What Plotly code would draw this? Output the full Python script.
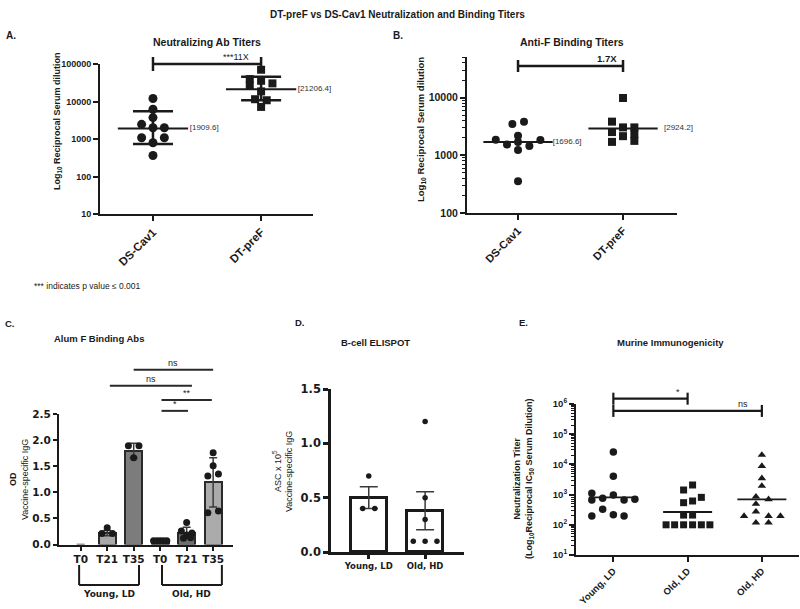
import math
import plotly.graph_objects as go

W, H = 800, 609

# ---------------- Panel A: Neutralizing Ab titers ----------------
A_CATS = ["DS-Cav1", "DT-preF"]
A_DSCAV1 = [12000, 6220, 3720, 2460, 2000, 2000, 1080, 1080, 795, 363]
A_DSCAV1_JIT = [0, 0, 0, -0.105, 0, 0.105, -0.105, 0.105, 0, 0]
A_DTPREF = [70300, 39600, 35700, 30400, 26300, 18600, 11500, 10800, 7170]
A_DTPREF_JIT = [0, -0.105, 0, 0.105, -0.105, 0, -0.056, 0.052, 0]
A_MEAN = [1909.6, 21206.4]
A_UPPER = [5500, 45600]
A_LOWER = [740, 10800]
A_YTICKS = [10, 100, 1000, 10000, 100000]
A_BRACKET = 100000
A_FOLD = "***11X"

# ---------------- Panel B: Anti-F binding titers ----------------
B_CATS = ["DS-Cav1", "DT-preF"]
B_DSCAV1 = [3840, 3500, 2180, 1860, 1850, 1710, 1535, 1455, 1240, 354]
B_DSCAV1_JIT = [0.057, -0.054, 0, -0.212, 0.213, 0, -0.105, 0.108, 0, 0]
B_DTPREF = [9860, 3840, 3050, 3050, 2530, 2330, 2150, 1780, 1710]
B_DTPREF_JIT = [0, -0.105, 0, 0.108, -0.105, 0.108, 0, 0.108, -0.105]
B_MEAN = [1696.6, 2924.2]
B_YTICKS = [100, 1000, 10000]
B_BRACKET = 35400
B_FOLD = "1.7X"

# ---------------- Panel C: Alum F binding Abs ----------------
C_TICKS = ["T0", "T21", "T35", "T0", "T21", "T35"]
C_MEAN = [0, 0.22, 1.80, 0.07, 0.22, 1.19]
C_SD = [0, 0.05, 0.14, 0.01, 0.11, 0.47]
C_COLORS = ["#ffffff", "#a9a9a9", "#7c7c7c", "#3a3a3a", "#6e6e6e", "#ababab"]
C_POINTS = [[], [0.32, 0.21, 0.21], [1.89, 1.89, 1.66], [0.07, 0.07, 0.07, 0.07, 0.07],
            [0.42, 0.26, 0.22, 0.18, 0.12, 0.13], [1.76, 1.51, 1.31, 1.35, 0.61, 0.64]]
C_JIT = [[], [0, -0.2, 0.2], [-0.2, 0.2, 0], [-0.25, -0.12, 0, 0.12, 0.25],
         [0, -0.2, 0.2, 0, -0.12, 0.15], [0, 0, -0.2, 0.2, -0.2, 0.2]]
C_YTICKS = [0.0, 0.5, 1.0, 1.5, 2.0, 2.5]
C_GROUPS = [("Young, LD", -0.06, 2.2), ("Old, HD", 3.07, 5.33)]
C_SIG = [("ns", 2.0, 5.0, 3.35), ("ns", 1.1, 4.2, 3.04), ("**", 3.05, 4.95, 2.77), ("*", 3.05, 4.05, 2.56)]

# ---------------- Panel D: B-cell ELISPOT ----------------
D_CATS = ["Young, LD", "Old, HD"]
D_MEAN = [0.50, 0.38]
D_SEM = [0.10, 0.175]
D_POINTS = [[0.7, 0.4, 0.4], [1.2, 0.5, 0.3, 0.1, 0.1, 0.1]]
D_JIT = [[0, -0.107, 0.107], [0, 0, 0, -0.21, 0, 0.21]]
D_YTICKS = [0.0, 0.5, 1.0, 1.5]

# ---------------- Panel E: Murine immunogenicity ----------------
E_CATS = ["Young, LD", "Old, LD", "Old, HD"]
E_YOUNG_LD = [25700, 4040, 1100, 970, 754, 660, 660, 697, 325, 195, 216, 195]
E_YOUNG_LD_JIT = [0, 0, -0.29, 0, -0.144, -0.29, 0.144, 0.29, -0.144, -0.29, 0, 0.144]
E_OLD_LD = [2080, 1420, 810, 540, 614, 210, 210, 100, 100, 100, 100, 100, 100]
E_OLD_LD_JIT = [0.067, -0.054, 0.185, -0.054, 0.067, -0.054, 0.067, -0.29, -0.175, -0.054, 0.067, 0.185, 0.30]
E_OLD_HD = [20500, 8850, 3460, 1930, 850, 697, 489, 272, 195, 195, 195, 117, 117]
E_OLD_HD_JIT = [0, 0, 0, 0, -0.08, 0.09, -0.08, -0.08, -0.24, 0.09, 0.25, -0.08, 0.09]
E_MEDIAN = [813, 265, 697]
E_YTICKS = [10, 100, 1000, 10000, 100000, 1000000]
E_SIG = [("*", 0, 1.0, 1.5e6), ("ns", 0, 2.0, 5.9e5)]

# ---------------- helpers ----------------
ARIAL = "Liberation Sans, Arial, sans-serif"
WIDE = "DejaVu Sans, sans-serif"
INK = "#1a1a1a"


def dom_x(p0, p1):
    return [p0 / W, p1 / W]


def dom_y(top, bottom):
    return [1 - bottom / H, 1 - top / H]


def px(x):
    return x / W


def py(y):
    return 1 - y / H


def log_frac(v, r):
    return (math.log10(v) - r[0]) / (r[1] - r[0])


fig = go.Figure()
shapes = []
annotations = []


def scatter_pts(xc, vals, jit, xa, ya, symbol, size, color=INK):
    fig.add_trace(go.Scatter(
        x=[xc + j for j in jit], y=vals, mode="markers", xaxis=xa, yaxis=ya,
        marker=dict(symbol=symbol, size=size, color=color, line=dict(width=0)),
        showlegend=False, hoverinfo="skip", cliponaxis=False))


def hline(xc, val, half, xa, ya, width=2):
    fig.add_trace(go.Scatter(
        x=[xc - half, xc + half], y=[val, val], mode="lines", xaxis=xa, yaxis=ya,
        line=dict(color=INK, width=width), showlegend=False, hoverinfo="skip"))


def bracket(xa, ya_dom, x0, x1, frac, tick_frac, width=2.5, left=True, right=True):
    shapes.append(dict(type="line", xref=xa, yref=ya_dom, x0=x0, x1=x1, y0=frac, y1=frac,
                       line=dict(color=INK, width=width)))
    if left:
        shapes.append(dict(type="line", xref=xa, yref=ya_dom, x0=x0, x1=x0,
                           y0=frac - tick_frac, y1=frac + tick_frac, line=dict(color=INK, width=width)))
    if right:
        shapes.append(dict(type="line", xref=xa, yref=ya_dom, x0=x1, x1=x1,
                           y0=frac - tick_frac, y1=frac + tick_frac, line=dict(color=INK, width=width)))


def text(x, y, s, size, bold=False, family=ARIAL, xanchor="center", yanchor="middle",
         angle=0, xref="paper", yref="paper", color=INK):
    annotations.append(dict(x=x, y=y, xref=xref, yref=yref, text=s, showarrow=False,
                            xanchor=xanchor, yanchor=yanchor, textangle=angle,
                            font=dict(family=family, size=size, color=color,
                                      weight="bold" if bold else "normal")))


# ---------------- Panel A traces ----------------
A_RANGE = [1, 5]
scatter_pts(0, A_DSCAV1, A_DSCAV1_JIT, "x", "y", "circle", 9)
scatter_pts(1, A_DTPREF, A_DTPREF_JIT, "x", "y", "square", 8)
for i in range(2):
    hline(i, A_MEAN[i], 0.325, "x", "y", 2)
    fig.add_trace(go.Scatter(
        x=[i], y=[A_MEAN[i]], mode="markers", xaxis="x", yaxis="y",
        marker=dict(size=1, color="rgba(0,0,0,0)"),
        error_y=dict(type="data", symmetric=False, array=[A_UPPER[i] - A_MEAN[i]],
                     arrayminus=[A_MEAN[i] - A_LOWER[i]], width=20, thickness=2.5, color=INK),
        showlegend=False, hoverinfo="skip"))
    fig.add_trace(go.Scatter(
        x=[i + 0.34], y=[A_MEAN[i]], mode="text", xaxis="x", yaxis="y",
        text=["[" + f"{A_MEAN[i]:.1f}" + "]"], textposition="middle right",
        textfont=dict(family=ARIAL, size=8, color="#333"), cliponaxis=False,
        showlegend=False, hoverinfo="skip"))
bracket("x", "y domain", 0, 1, log_frac(A_BRACKET, A_RANGE), 7 / 150, 2.5)
text(0.77, 1.0, A_FOLD, 9, False, xref="x", yref="y domain", yanchor="bottom")

# ---------------- Panel B traces ----------------
B_RANGE = [2, 4.705]
scatter_pts(0, B_DSCAV1, B_DSCAV1_JIT, "x2", "y2", "circle", 8)
scatter_pts(1, B_DTPREF, B_DTPREF_JIT, "x2", "y2", "square", 8)
B_LABEL_OFF = [0.33, 0.39]
for i in range(2):
    hline(i, B_MEAN[i], 0.33, "x2", "y2", 2)
    fig.add_trace(go.Scatter(
        x=[i + B_LABEL_OFF[i]], y=[B_MEAN[i]], mode="text", xaxis="x2", yaxis="y2",
        text=["[" + f"{B_MEAN[i]:.1f}" + "]"], textposition="middle right",
        textfont=dict(family=ARIAL, size=8, color="#333"), cliponaxis=False,
        showlegend=False, hoverinfo="skip"))
bracket("x2", "y2 domain", 0, 1, log_frac(B_BRACKET, B_RANGE), 6 / 156, 2.5)
text(0.85, log_frac(B_BRACKET, B_RANGE), B_FOLD, 9.5, True, xref="x2", yref="y2 domain", yanchor="bottom")

# ---------------- Panel C traces ----------------
C_RANGE = [0, 2.5]
C_X = list(range(len(C_TICKS)))
fig.add_trace(go.Bar(
    x=C_X, y=C_MEAN, width=0.65, xaxis="x3", yaxis="y3",
    marker=dict(color=C_COLORS, line=dict(color="#2a2a2a", width=[0 if m == 0 else 2 for m in C_MEAN])),
    error_y=dict(type="data", array=C_SD, width=4, thickness=1.5, color="#3a3a3a",
                 visible=True),
    showlegend=False, hoverinfo="skip"))
for i in C_X:
    if C_POINTS[i]:
        scatter_pts(i, C_POINTS[i], C_JIT[i], "x3", "y3", "circle", 7)
for lab, x0, x1, v in C_SIG:
    f = (v - C_RANGE[0]) / (C_RANGE[1] - C_RANGE[0])
    shapes.append(dict(type="line", xref="x3", yref="y3 domain", x0=x0, x1=x1, y0=f, y1=f,
                       line=dict(color="#2a2a2a", width=2)))
    text((x0 + x1) / 2, f, lab, 9, False, xref="x3", yref="y3 domain", yanchor="bottom")
for lab, x0, x1 in C_GROUPS:
    for xx in (x0, x1):
        shapes.append(dict(type="line", xref="x3", yref="paper", x0=xx, x1=xx,
                           y0=py(565), y1=py(585), line=dict(color=INK, width=2)))
    shapes.append(dict(type="line", xref="x3", yref="paper", x0=x0, x1=x1,
                       y0=py(585), y1=py(585), line=dict(color=INK, width=2)))
    text((x0 + x1) / 2, py(594), lab, 9, True, family=WIDE, xref="x3")

# ---------------- Panel D traces ----------------
fig.add_trace(go.Bar(
    x=[0, 1], y=D_MEAN, width=0.64, xaxis="x4", yaxis="y4",
    marker=dict(color="white", line=dict(color=INK, width=3)),
    error_y=dict(type="data", array=D_SEM, width=9, thickness=1.5, color="#3a3a3a"),
    showlegend=False, hoverinfo="skip"))
for i in range(2):
    scatter_pts(i, D_POINTS[i], D_JIT[i], "x4", "y4", "circle", 5.5)

# ---------------- Panel E traces ----------------
E_RANGE = [1, 6]
scatter_pts(0, E_YOUNG_LD, E_YOUNG_LD_JIT, "x5", "y5", "circle", 7.5)
scatter_pts(1, E_OLD_LD, E_OLD_LD_JIT, "x5", "y5", "square", 7)
scatter_pts(2, E_OLD_HD, E_OLD_HD_JIT, "x5", "y5", "triangle-up", 7.5)
for i in range(3):
    hline(i, E_MEDIAN[i], 0.33, "x5", "y5", 1.8)
for lab, x0, x1, v in E_SIG:
    f = log_frac(v, E_RANGE)
    bracket("x5", "y5 domain", x0, x1, f, 6 / 151, 2.2)
    text(x0 + (x1 - x0) * 0.87, f, lab, 9, False, xref="x5", yref="y5 domain", yanchor="bottom")

# ---------------- axes ----------------
def xaxis_cfg(domain, rng, tickvals, ticktext, anchor, angle=0, size=11, family=ARIAL, lw=2, ticklen=5):
    return dict(domain=domain, range=rng, anchor=anchor, tickvals=tickvals, ticktext=ticktext,
                tickangle=angle, showline=True, linecolor=INK, linewidth=lw, ticks="outside",
                ticklen=ticklen, tickwidth=lw, tickcolor=INK, showgrid=False, zeroline=False,
                automargin=False,
                tickfont=dict(family=family, size=size, color=INK, weight="bold"), fixedrange=True)


def yaxis_cfg(domain, rng, tickvals, ticktext, anchor, log=False, size=9, family=ARIAL, lw=2,
              ticklen=5, minor=False):
    cfg = dict(domain=domain, range=rng, anchor=anchor, tickvals=tickvals, ticktext=ticktext,
               showline=True, linecolor=INK, linewidth=lw, ticks="outside", ticklen=ticklen,
               tickwidth=lw, tickcolor=INK, showgrid=False, zeroline=False, automargin=False,
               tickfont=dict(family=family, size=size, color=INK, weight="bold"), fixedrange=True)
    if log:
        cfg["type"] = "log"
    if minor:
        cfg["minor"] = dict(ticks="outside", ticklen=3, tickwidth=1, tickcolor=INK,
                            dtick="D1", showgrid=False)
    return cfg


layout = dict(
    width=W, height=H, margin=dict(l=0, r=0, t=0, b=0, autoexpand=False),
    paper_bgcolor="white", plot_bgcolor="white", showlegend=False, bargap=0,
    xaxis=xaxis_cfg(dom_x(100, 313), [-0.49, 1.48], [0, 1], A_CATS, "y", angle=-45, size=11.5),
    yaxis=yaxis_cfg(dom_y(64, 214), A_RANGE, A_YTICKS, [str(v) for v in A_YTICKS], "x", log=True, size=9),
    xaxis2=xaxis_cfg(dom_x(467, 677), [-0.486, 1.514], [0, 1], B_CATS, "y2", angle=-45, size=11),
    yaxis2=yaxis_cfg(dom_y(57, 213), B_RANGE, B_YTICKS, [str(v) for v in B_YTICKS], "x2", log=True,
                     size=10.5, minor=True),
    xaxis3=xaxis_cfg(dom_x(59, 233), [-0.82, 5.75], C_X, C_TICKS, "y3", size=10.5, family=WIDE,
                     ticklen=4),
    yaxis3=yaxis_cfg(dom_y(414, 544.5), C_RANGE, C_YTICKS, [f"{v:.1f}" for v in C_YTICKS], "x3",
                     size=10.5, family=WIDE, ticklen=4),
    xaxis4=xaxis_cfg(dom_x(331, 464), [-0.67, 1.69], [0, 1], D_CATS, "y4", size=8.5, family=WIDE,
                     lw=2.5, ticklen=4),
    yaxis4=yaxis_cfg(dom_y(389, 552), [0, 1.5], D_YTICKS, [f"{v:.1f}" for v in D_YTICKS], "x4",
                     size=11.5, family=WIDE, lw=2.5, ticklen=5),
    xaxis5=xaxis_cfg(dom_x(576, 799), [-0.503, 2.5], [0, 1, 2], E_CATS, "y5", angle=-45, size=9.5),
    yaxis5=yaxis_cfg(dom_y(404, 555), E_RANGE, E_YTICKS,
                     [f"10<sup>{int(round(math.log10(v)))}</sup>" for v in E_YTICKS], "x5", log=True,
                     size=9.5, minor=True),
)

# ---------------- texts ----------------
text(px(397), py(15), "DT-preF vs DS-Cav1 Neutralization and Binding Titers", 10, True)
text(px(4), py(35), "A.", 10, True, xanchor="left")
text(px(391), py(35), "B.", 10, True, xanchor="left")
text(px(207), py(42), "Neutralizing Ab Titers", 10.5, True)
text(px(572), py(42), "Anti-F Binding Titers", 10.5, True)
text(px(58), py(121), "Log<sub>10</sub> Reciprocal Serum dilution", 9, True, angle=-90)
text(px(421), py(130), "Log<sub>10</sub> Reciprocal Serum dilution", 9.5, True, angle=-90)
text(px(32), py(286), "*** indicates p value ≤ 0.001", 8.5, False, xanchor="left")
text(px(3), py(323), "C.", 9.5, True, xanchor="left")
text(px(293), py(322), "D.", 9.5, True, xanchor="left")
text(px(517), py(322), "E.", 9.5, True, xanchor="left")
text(px(52), py(338), "Alum F Binding Abs", 9.5, True, xanchor="left")
text(px(375), py(342), "B-cell ELISPOT", 9.5, True)
text(px(670), py(342), "Murine Immunogenicity", 9.5, True)
text(px(19), py(480), "<b>OD</b><br>Vaccine-specific IgG", 9, False, angle=-90)
text(px(282), py(472), "ASC x 10<sup>5</sup><br>Vaccine-specific IgG", 9, False, angle=-90)
text(px(523), py(479), "Neutralization Titer<br>(Log<sub>10</sub>Reciprocal IC<sub>50</sub> Serum Dilution)",
     9, True, angle=-90)

layout["shapes"] = shapes
layout["annotations"] = annotations
fig.update_layout(**layout)
fig.write_html("out.html", config={"displayModeBar": False},
               post_script="document.body.style.margin='0';document.body.style.overflow='hidden';")
